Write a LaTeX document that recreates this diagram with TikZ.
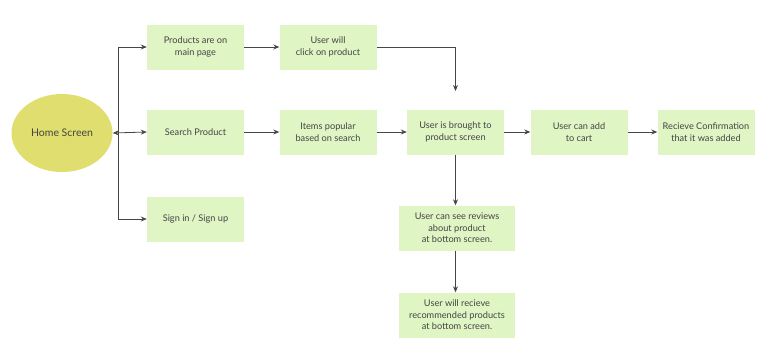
\documentclass[tikz,border=0pt]{standalone}
\usepackage{fontspec}
\setmainfont{Lato}
\usetikzlibrary{arrows.meta,shapes.geometric}
\definecolor{boxfill}{RGB}{223,245,196}
\definecolor{homefill}{RGB}{224,222,110}
\definecolor{ink}{RGB}{68,68,68}
\definecolor{wire}{RGB}{70,70,70}
\begin{document}
\begin{tikzpicture}[x=1pt,y=-1pt,
  every node/.style={font=\fontsize{9.2}{11.5}\selectfont, text=ink, align=center},
  stepbox/.style={fill=boxfill, draw=none, minimum height=45pt, inner sep=0pt},
  wide/.style={stepbox, minimum width=97pt},
  wider/.style={stepbox, minimum width=116pt},
  flow/.style={draw=wire, line width=0.8pt, -{Stealth[length=6pt,width=5pt]}},
]
\useasboundingbox (0,0) rectangle (764,360);

% start node
\node[ellipse, fill=homefill, minimum width=101pt, minimum height=78pt, inner sep=0pt,
      font=\fontsize{10.5}{12}\selectfont] (home) at (62,133) {Home Screen};

% first column
\node[wide] (main)   at (195.5,47)  {Products are on\\main page};
\node[wide] (search) at (195.5,132) {Search Product};
\node[wide] (sign)   at (195.5,219) {Sign in / Sign up};

% second column
\node[wide] (click)   at (328,47)  {User will\\click on product};
\node[wide] (popular) at (328,132) {Items popular\\based on search};

% product row
\node[wide] (product) at (455.5,132) {User is brought to\\product screen};
\node[wide] (cart)    at (579,132)   {User can add\\to cart};
\node[wide] (confirm) at (706,132)   {Recieve Confirmation\\that it was added};

% below the product screen
\node[wider] (reviews) at (457,228) {User can see reviews\\about product\\at bottom screen.};
\node[wider] (recom)   at (457,315) {User will recieve\\recommended products\\at bottom screen.};

% branching from the home screen
\coordinate (fork) at (118,132);
\coordinate (drop) at (455.5,91);
\draw[draw=wire, line width=0.8pt, {Stealth[length=6pt,width=5pt]}-{Stealth[length=6pt,width=5pt]}] (home.east) -- (search.west);
\draw[flow] (fork) |- (main.west);
\draw[flow] (fork) |- (sign.west);

% main flow
\draw[flow] (main) -- (click);
\draw[flow] (click.east) -| (drop);
\draw[flow] (search) -- (popular);
\draw[flow] (popular) -- (product);
\draw[flow] (product) -- (cart);
\draw[flow] (cart) -- (confirm);
\draw[flow] (product.south) -- (product.south |- reviews.north);
\draw[flow] (product.south |- reviews.south) -- (product.south |- recom.north);
\end{tikzpicture}
\end{document}
